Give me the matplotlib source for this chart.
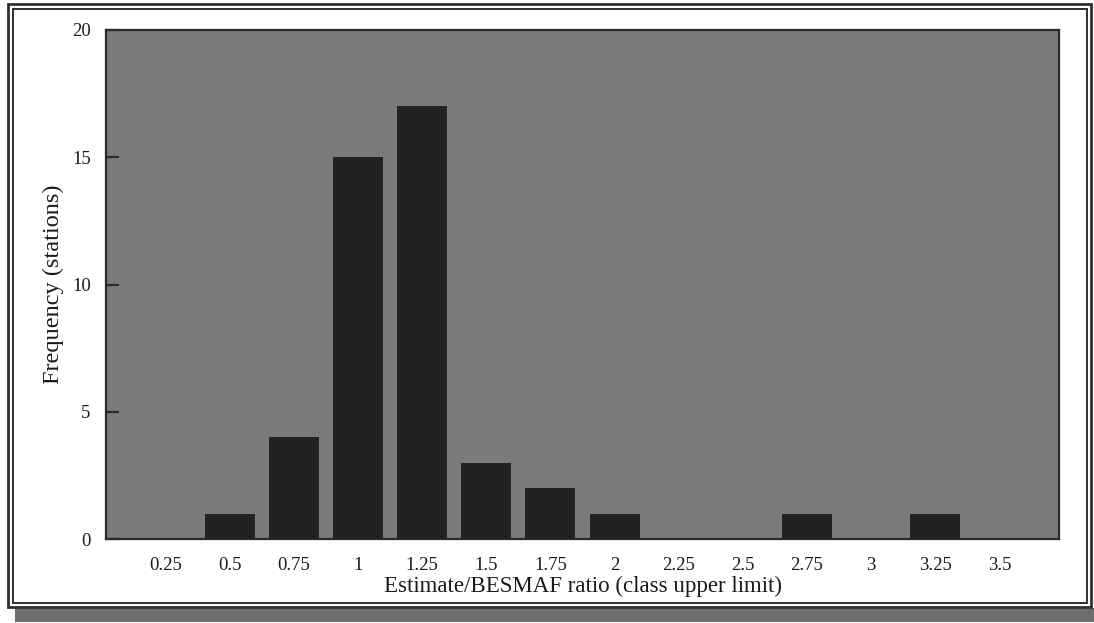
import matplotlib

matplotlib.use("Agg")
import matplotlib.patches as patches
import matplotlib.pyplot as plt

# class upper limits of the estimate/BESMAF ratio and station counts per class
classes = ["0.25", "0.5", "0.75", "1", "1.25", "1.5", "1.75", "2",
           "2.25", "2.5", "2.75", "3", "3.25", "3.5"]
stations = [0, 1, 4, 15, 17, 3, 2, 1, 0, 0, 1, 0, 1, 0]
yticks = [0, 5, 10, 15, 20]

W, H = 1094, 623
plt.rcParams["font.family"] = ["Liberation Serif", "DejaVu Serif"]

fig = plt.figure(figsize=(W / 100, H / 100), dpi=100)
fig.patch.set_facecolor("white")


def fx(px):
    return px / W


def fy(px):
    return 1 - px / H


# framed page: shadow band under the double border
fig.patches.append(patches.Rectangle((fx(15), fy(622)), fx(1094 - 15), 14 / H,
                                     transform=fig.transFigure, fc="#6e6e6e",
                                     ec="none", antialiased=False, zorder=0))
for x0, y0, x1, y1, lw in [(8, 4, 1091, 607, 2.0), (13, 9, 1087, 603, 1.4)]:
    fig.patches.append(patches.Rectangle((fx(x0), fy(y1)), fx(x1 - x0), (y1 - y0) / H,
                                         transform=fig.transFigure, fc="none",
                                         ec="#303030", lw=lw, zorder=1))

ax = fig.add_axes([fx(106), fy(539), fx(1059 - 106), (539 - 30) / H])
ax.set_facecolor("#7b7b7b")
xs = range(len(classes))
ax.bar(xs, stations, width=0.78, color="#222222", zorder=2)

ax.set_xlim(-0.93, len(classes) - 1 + 0.93)
ax.set_ylim(0, 20)
ax.set_xticks(list(xs))
ax.set_xticklabels(classes, fontsize=13.5)
ax.set_yticks(yticks)
ax.set_yticklabels([str(v) for v in yticks], fontsize=13.5)
ax.tick_params(axis="x", length=0, pad=13, labelcolor="#1a1a1a")
ax.tick_params(axis="y", direction="in", length=9.5, width=1.6,
               color="#2a2a2a", pad=11, labelcolor="#1a1a1a")
for s in ax.spines.values():
    s.set_color("#2a2a2a")
    s.set_linewidth(1.6)

ax.set_xlabel("Estimate/BESMAF ratio (class upper limit)", fontsize=16.5,
              labelpad=1, color="#1a1a1a")
ax.set_ylabel("Frequency (stations)", fontsize=17.5, labelpad=6, color="#1a1a1a")

fig.savefig("out.png", dpi=100)
